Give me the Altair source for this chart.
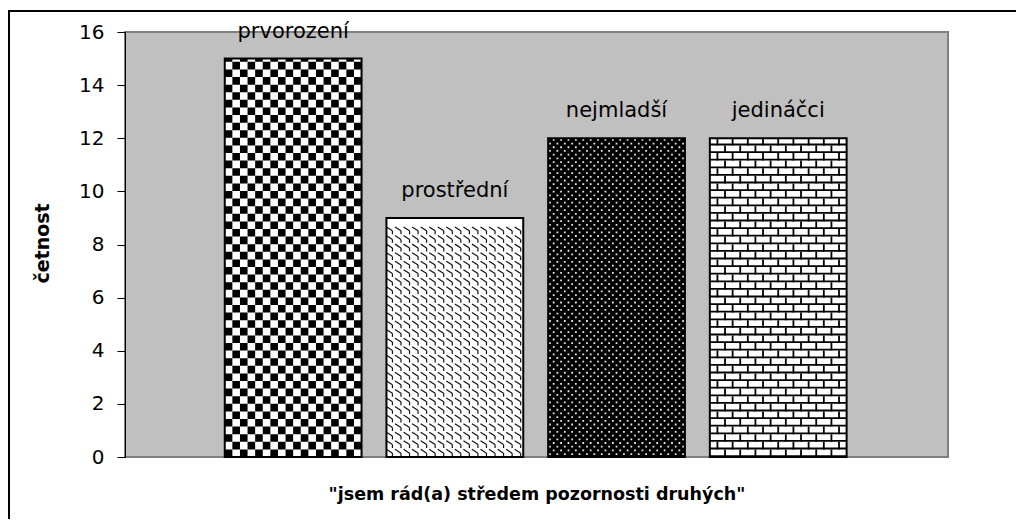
import altair as alt
import pandas as pd

# ---- data ----
categories = ["prvorození", "prostřední", "nejmladší", "jedináčci"]
counts = [15, 9, 12, 12]
y_ticks = [0, 2, 4, 6, 8, 10, 12, 14, 16]
x_title = '"jsem rád(a) středem pozornosti druhých"'
y_title = "četnost"

# ---- layout / style ----
W, H = 823, 425
X_DOMAIN = [-0.04, 5.05]
Y_DOMAIN = [0, 16]
PX = W / (X_DOMAIN[1] - X_DOMAIN[0])   # px per x unit
PY = H / (Y_DOMAIN[1] - Y_DOMAIN[0])   # px per y unit
HALF = 0.423                            # half bar width in x units
BAR_PX = 2 * HALF * PX
FONT = "DejaVu Sans"

positions = list(range(1, len(categories) + 1))
bars = pd.DataFrame({"cat": categories, "count": counts, "pos": positions})
bars["left"] = bars["pos"] - HALF
bars["right"] = bars["pos"] + HALF
bars["zero"] = 0

xscale = alt.Scale(domain=X_DOMAIN, nice=False, zero=False)
yscale = alt.Scale(domain=Y_DOMAIN, nice=False)

X_AXIS = alt.Axis(labels=False, ticks=False, domain=False, grid=False,
                  title=x_title, titleFont=FONT, titleFontSize=17.5,
                  titleFontWeight="bold", titleColor="black",
                  titleX=W / 2, titleY=37, titleBaseline="middle")
Y_AXIS = alt.Axis(values=y_ticks, grid=False, tickSize=8, labelPadding=13,
                  domainColor="black", tickColor="black", labelColor="black",
                  labelFont=FONT, labelFontSize=20, labelBaseline="middle",
                  title=y_title, titleFont=FONT, titleFontSize=19,
                  titleFontWeight="bold", titleColor="black",
                  titleAngle=270, titleX=-83, titleY=211,
                  titleAlign="center", titleBaseline="middle")


def X(f):
    return alt.X(f, type="quantitative", scale=xscale, axis=X_AXIS)


def Y(f):
    return alt.Y(f, type="quantitative", scale=yscale, axis=Y_AXIS)


def columns(i, n, frac):
    cw = 2 * HALF / n
    rows = []
    for j in range(n):
        rows.append({"x": positions[i] - HALF + (j + frac) * cw,
                     "zero": 0, "top": counts[i], "parity": j % 2})
    return pd.DataFrame(rows)


# base bar fills
fills = alt.Chart(bars).mark_rect().encode(
    x=X("left"), x2="right:Q", y=Y("zero"), y2="count:Q",
    color=alt.Color("cat:N", scale=alt.Scale(domain=categories,
                                             range=["white", "white", "black", "white"]),
                    legend=None),
)

layers = [fills]

# bar 1: large checkerboard
n1 = 18
cell1 = BAR_PX / n1
chk = columns(0, n1, 0.5)
for par in (0, 1):
    layers.append(
        alt.Chart(chk[chk.parity == par]).mark_rule(
            color="black", strokeWidth=cell1, strokeCap="butt",
            strokeDash=[cell1, cell1], strokeDashOffset=par * cell1
        ).encode(x=X("x"), y=Y("zero"), y2="top:Q")
    )

# bar 2: shingle pattern (short descending curves in tiles)
n2 = 16
cw2 = 2 * HALF / n2
ch2 = (BAR_PX / n2) / PY
nrows2 = int(counts[1] / ch2)
sh_rows = []
for r in range(nrows2):
    for c in range(n2):
        x0 = positions[1] - HALF + c * cw2
        top = (r + 1) * ch2
        sh_rows.append({"x": x0, "x2": x0 + 0.7 * cw2, "y": top - 0.1 * ch2,
                        "y2": top - 0.55 * ch2})
        sh_rows.append({"x": x0 + 0.7 * cw2, "x2": x0 + 0.7 * cw2, "y": top - 0.55 * ch2,
                        "y2": top - 0.95 * ch2})
shingle = pd.DataFrame(sh_rows)
layers.append(
    alt.Chart(shingle).mark_rule(color="#111111", strokeWidth=1.2).encode(
        x=X("x"), x2="x2:Q", y=Y("y"), y2="y2:Q")
)

# bar 3: dark with white dots
n3 = 37
cell3 = BAR_PX / n3
dots = columns(2, n3, 0.5)
for par in (0, 1):
    layers.append(
        alt.Chart(dots[dots.parity == par]).mark_rule(
            color="#e4e4e4", strokeWidth=1.8, strokeCap="butt",
            strokeDash=[1.8, 2 * cell3 - 1.8], strokeDashOffset=-par * cell3 - 2
        ).encode(x=X("x"), y=Y("zero"), y2="top:Q")
    )

# bar 4: horizontal bricks
n4 = 18
cell4 = BAR_PX / n4
mortar = bars.iloc[[3]]
layers.append(
    alt.Chart(mortar).mark_rule(
        color="black", strokeWidth=BAR_PX, strokeCap="butt",
        strokeDash=[1.8, cell4 - 1.8]
    ).encode(x=X("pos"), y=Y("zero"), y2="count:Q")
)
joints = columns(3, n4, 0.0)
joints = joints[joints.index > 0]
for par in (0, 1):
    layers.append(
        alt.Chart(joints[joints.parity == par]).mark_rule(
            color="black", strokeWidth=1.8, strokeCap="butt",
            strokeDash=[cell4, cell4], strokeDashOffset=par * cell4
        ).encode(x=X("x"), y=Y("zero"), y2="top:Q")
    )

# bar outlines
layers.append(
    alt.Chart(bars).mark_rect(filled=False, stroke="black", strokeWidth=2).encode(
        x=X("left"), x2="right:Q", y=Y("zero"), y2="count:Q")
)

# value labels (category names above the bars)
layers.append(
    alt.Chart(bars).mark_text(font=FONT, fontSize=21, dy=-27, color="black",
                              align="center", baseline="middle").encode(
        x=X("pos"), y=Y("count"), text="cat:N")
)

# outer chart-area border
frame = alt.Chart(pd.DataFrame({"k": [0]})).mark_rect(
    filled=False, stroke="black", strokeWidth=2, clip=False
).encode(x=alt.value(-116), x2=alt.value(1200), y=alt.value(-21), y2=alt.value(900))
layers.append(frame)

chart = alt.layer(*layers).properties(
    width=W, height=H,
    autosize=alt.AutoSizeParams(type="none"),
    padding={"left": 117, "top": 24, "right": 68, "bottom": 62},
).configure_view(
    fill="#C0C0C0", stroke="#808080", strokeWidth=2
)

chart.save("out.html", embed_options={"renderer": "svg", "actions": False})
